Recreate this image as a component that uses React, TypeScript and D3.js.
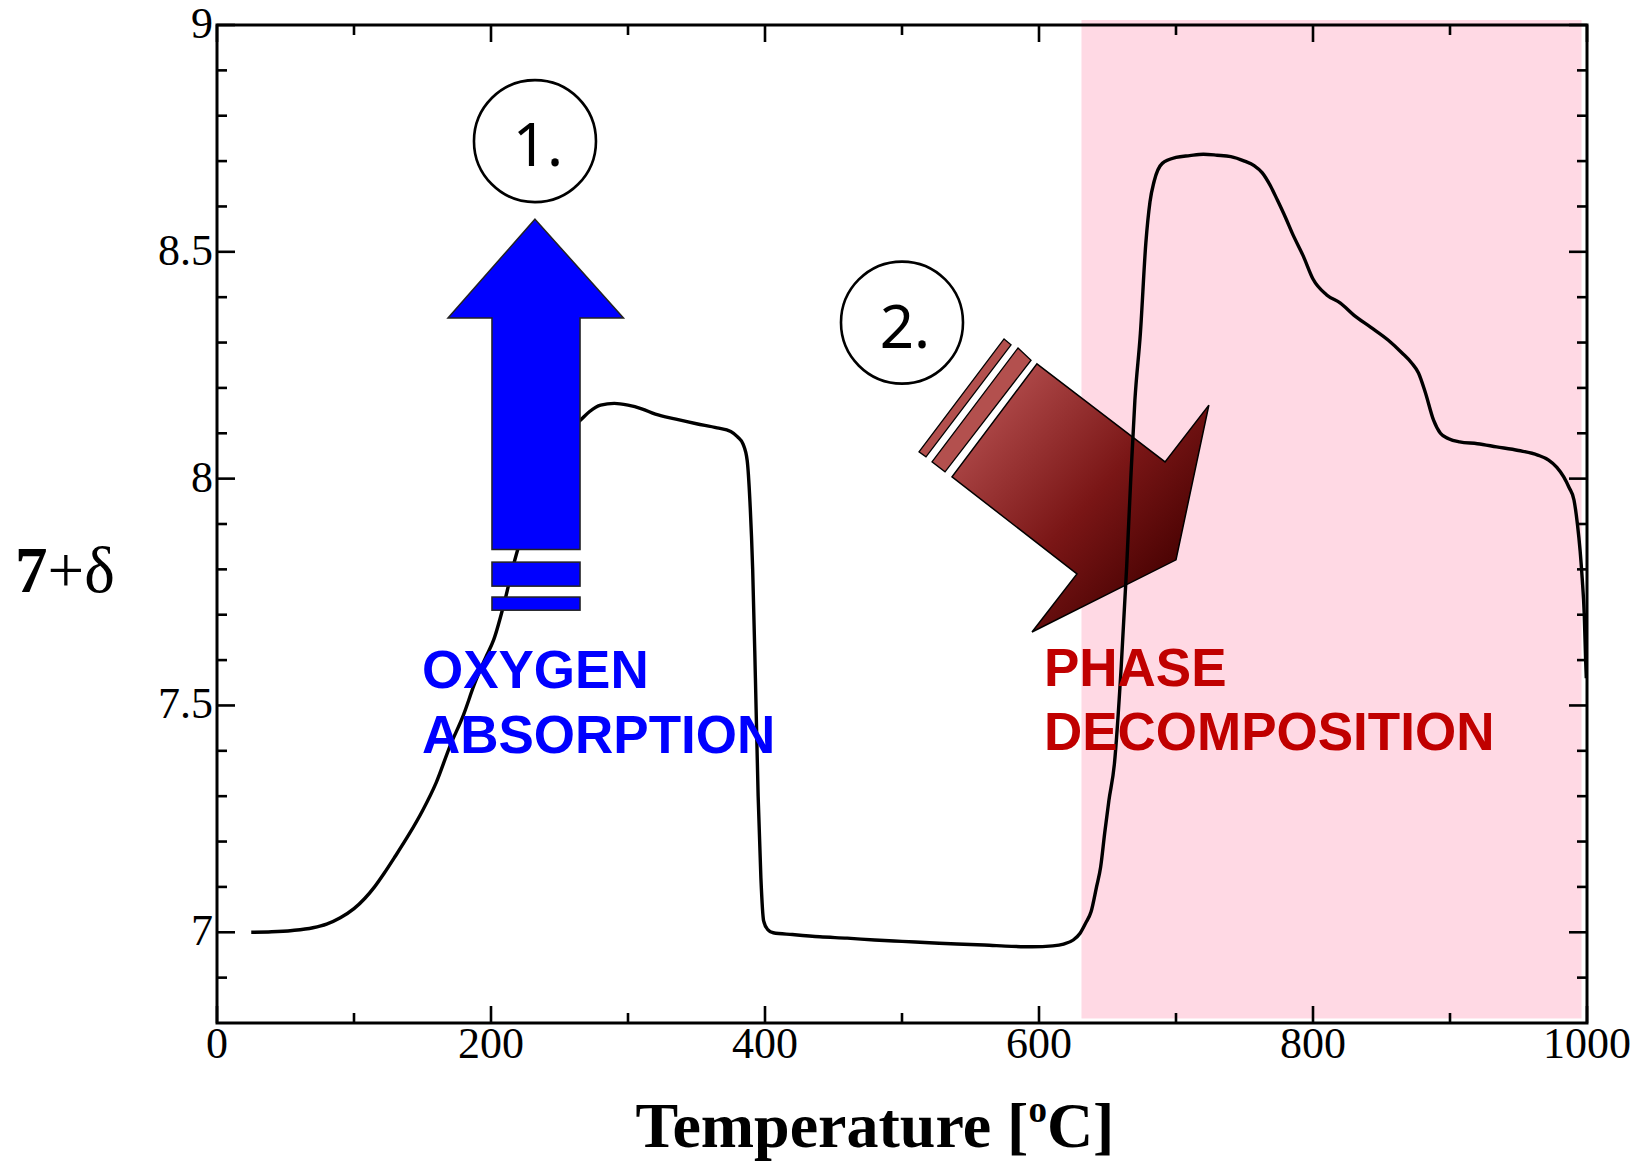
import React from 'react';
import * as d3 from 'd3';

// ---------- data ----------
const temperature = [25, 40, 55, 70, 80, 90, 100, 108, 115, 122, 130, 140, 150, 160, 170, 180, 188, 196, 202, 210, 216, 222, 230, 240, 250, 258, 265, 272, 280, 290, 300, 310, 320, 335, 350, 365, 375, 380, 384, 387, 389, 391, 393, 395, 397, 399, 402, 406, 420, 440, 460, 480, 500, 520, 540, 560, 580, 595, 610, 618, 625, 630, 634, 638, 642, 645, 648, 651, 655, 660, 664, 667, 670, 674, 678, 681, 684, 690, 700, 710, 720, 730, 740, 750, 757, 763, 769, 774, 780, 785, 793, 800, 810, 820, 830, 842, 855, 865, 872, 877, 882, 888, 893, 899, 907, 920, 934, 950, 964, 972, 978, 983, 987, 990.5, 993, 995, 996.5, 998, 999, 999.5];
const oxygen = [7.000, 7.001, 7.004, 7.010, 7.018, 7.032, 7.052, 7.075, 7.100, 7.130, 7.167, 7.215, 7.268, 7.330, 7.410, 7.480, 7.548, 7.605, 7.645, 7.730, 7.805, 7.870, 7.950, 8.030, 8.080, 8.110, 8.128, 8.148, 8.162, 8.166, 8.162, 8.154, 8.142, 8.131, 8.121, 8.112, 8.104, 8.092, 8.076, 8.040, 7.950, 7.800, 7.560, 7.300, 7.120, 7.025, 7.006, 6.999, 6.995, 6.990, 6.987, 6.983, 6.980, 6.977, 6.974, 6.972, 6.969, 6.968, 6.970, 6.974, 6.983, 6.998, 7.020, 7.045, 7.100, 7.144, 7.220, 7.290, 7.370, 7.585, 7.806, 8.000, 8.173, 8.320, 8.520, 8.610, 8.655, 8.695, 8.708, 8.712, 8.715, 8.713, 8.710, 8.700, 8.690, 8.674, 8.645, 8.614, 8.575, 8.540, 8.490, 8.440, 8.405, 8.387, 8.360, 8.334, 8.305, 8.277, 8.255, 8.233, 8.190, 8.129, 8.100, 8.088, 8.081, 8.077, 8.070, 8.062, 8.052, 8.041, 8.025, 8.004, 7.980, 7.953, 7.900, 7.840, 7.780, 7.700, 7.600, 7.560];

const xMajorTicks = [0, 200, 400, 600, 800, 1000];
const xMinorTicks = [100, 300, 500, 700, 900];
const yMajorTicks = [7, 7.5, 8, 8.5, 9];
const yMinorTicks = [6.9, 7.1, 7.2, 7.3, 7.4, 7.6, 7.7, 7.8, 7.9, 8.1, 8.2, 8.3, 8.4, 8.6, 8.7, 8.8, 8.9];

// shaded phase-decomposition band (temperature range, delta range)
const bandT = [631, 996];
const bandV = [6.81, 9.011];

// annotations in data coordinates [T, 7+delta]
const blueArrow = [[232.1, 8.572], [296.7, 8.354], [265, 8.354], [265, 7.844], [200.7, 7.844], [200.7, 8.354], [168.6, 8.354]];
const blueStripes = [[200.7, 265, 7.816, 7.763], [200.7, 265, 7.739, 7.710]];
const redArrow = [[598.5, 8.253], [692, 8.037], [724, 8.162], [700, 7.821], [594.9, 7.662], [627.7, 7.790], [536.5, 8.004]];
const redStripes = [
  [[584.7, 8.288], [594.2, 8.261], [531.4, 8.015], [521.9, 8.037]],
  [[574.5, 8.308], [579.6, 8.295], [517.5, 8.048], [512.4, 8.059]],
];
const markers = [{ label: '1.', T: 232.1, v: 8.744 }, { label: '2.', T: 500, v: 8.344 }];
const notes = [
  { lines: ['OXYGEN', 'ABSORPTION'], T: 149.6, v: [7.538, 7.395], color: '#0000FF' },
  { lines: ['PHASE', 'DECOMPOSITION'], T: 603.6, v: [7.543, 7.402], color: '#C00000' },
];

// ---------- layout ----------
const W = 1635, H = 1162;
const L = 217, R = 1587, T0 = 25, B = 1023;

export default function App() {
  const x = d3.scaleLinear().domain([0, 1000]).range([L, R]);
  const y = d3.scaleLinear().domain([6.8, 9]).range([B, T0]);
  const pts = temperature.map((t, i) => [t, oxygen[i]] as [number, number]);
  const line = d3.line<[number, number]>().x(d => x(d[0])).y(d => y(d[1])).curve(d3.curveMonotoneX);
  const poly = (arr: number[][]) => arr.map(p => `${x(p[0])},${y(p[1])}`).join(' ');
  const serif = '"Liberation Serif", "Times New Roman", serif';
  const sans = '"Liberation Sans", Arial, sans-serif';

  return (
    <svg width={W} height={H} style={{ position: 'absolute', left: 0, top: 0, background: '#fff' }}>
      <defs>
        <linearGradient id="redGrad" gradientUnits="userSpaceOnUse" x1={990} y1={390} x2={1190} y2={570}>
          <stop offset="0" stopColor="#B24C4C" />
          <stop offset="0.55" stopColor="#7A1616" />
          <stop offset="1" stopColor="#440000" />
        </linearGradient>
      </defs>
      <rect x={x(bandT[0])} y={y(bandV[1])} width={x(bandT[1]) - x(bandT[0])} height={y(bandV[0]) - y(bandV[1])} fill="#FFD9E4" />

      {redStripes.map((s, i) => (
        <polygon key={i} points={poly(s)} fill="#B3504E" stroke="#000" strokeWidth={1.3} />
      ))}
      <polygon points={poly(redArrow)} fill="url(#redGrad)" stroke="#000" strokeWidth={1.5} />

      <path d={line(pts) || ''} fill="none" stroke="#000" strokeWidth={3.4} strokeLinejoin="round" />

      <polygon points={poly(blueArrow)} fill="#0000FF" stroke="#222" strokeWidth={1.5} />
      {blueStripes.map((s, i) => (
        <rect key={i} x={x(s[0])} y={y(s[2])} width={x(s[1]) - x(s[0])} height={y(s[3]) - y(s[2])} fill="#0000FF" stroke="#222" strokeWidth={1.5} />
      ))}

      {markers.map((m, i) => (
        <g key={i}>
          <circle cx={x(m.T)} cy={y(m.v)} r={61} fill="#fff" stroke="#000" strokeWidth={2.6} />
          <text x={x(m.T) + 3} y={y(m.v) + 25} textAnchor="middle" fontFamily='"Noto Sans", sans-serif' fontSize={60} fill="#000">{m.label}</text>
        </g>
      ))}

      {notes.map((n, i) => (
        <g key={i}>
          {n.lines.map((s, j) => (
            <text key={j} x={x(n.T)} y={y(n.v[j])} fontFamily={sans} fontWeight="bold" fontSize={53} fill={n.color}>{s}</text>
          ))}
        </g>
      ))}

      {/* frame */}
      <rect x={L} y={T0} width={R - L} height={B - T0} fill="none" stroke="#000" strokeWidth={3} />
      {xMajorTicks.map(t => (
        <g key={'xm' + t}>
          <line x1={x(t)} x2={x(t)} y1={B} y2={B - 17} stroke="#000" strokeWidth={2.6} />
          <line x1={x(t)} x2={x(t)} y1={T0} y2={T0 + 17} stroke="#000" strokeWidth={2.6} />
          <text x={x(t)} y={B + 35} textAnchor="middle" fontFamily={serif} fontSize={44} fill="#000">{t}</text>
        </g>
      ))}
      {xMinorTicks.map(t => (
        <g key={'xn' + t}>
          <line x1={x(t)} x2={x(t)} y1={B} y2={B - 10} stroke="#000" strokeWidth={2.6} />
          <line x1={x(t)} x2={x(t)} y1={T0} y2={T0 + 10} stroke="#000" strokeWidth={2.6} />
        </g>
      ))}
      {yMajorTicks.map(t => (
        <g key={'ym' + t}>
          <line x1={L} x2={L + 18} y1={y(t)} y2={y(t)} stroke="#000" strokeWidth={2.6} />
          <line x1={R} x2={R - 18} y1={y(t)} y2={y(t)} stroke="#000" strokeWidth={2.6} />
          <text x={213} y={y(t) + 13} textAnchor="end" fontFamily={serif} fontSize={44} fill="#000">{String(t)}</text>
        </g>
      ))}
      {yMinorTicks.map(t => (
        <g key={'yn' + t}>
          <line x1={L} x2={L + 10} y1={y(t)} y2={y(t)} stroke="#000" strokeWidth={2.6} />
          <line x1={R} x2={R - 10} y1={y(t)} y2={y(t)} stroke="#000" strokeWidth={2.6} />
        </g>
      ))}

      {/* axis titles */}
      <text x={15} y={592} fontFamily={serif} fontSize={65} fill="#000">
        <tspan fontWeight="bold">7</tspan><tspan>+δ</tspan>
      </text>
      <text x={875} y={1147} textAnchor="middle" fontFamily={serif} fontWeight="bold" fontSize={64} fill="#000">
        Temperature [<tspan fontSize={37} dy={-25}>o</tspan><tspan dy={25}>C]</tspan>
      </text>
    </svg>
  );
}
